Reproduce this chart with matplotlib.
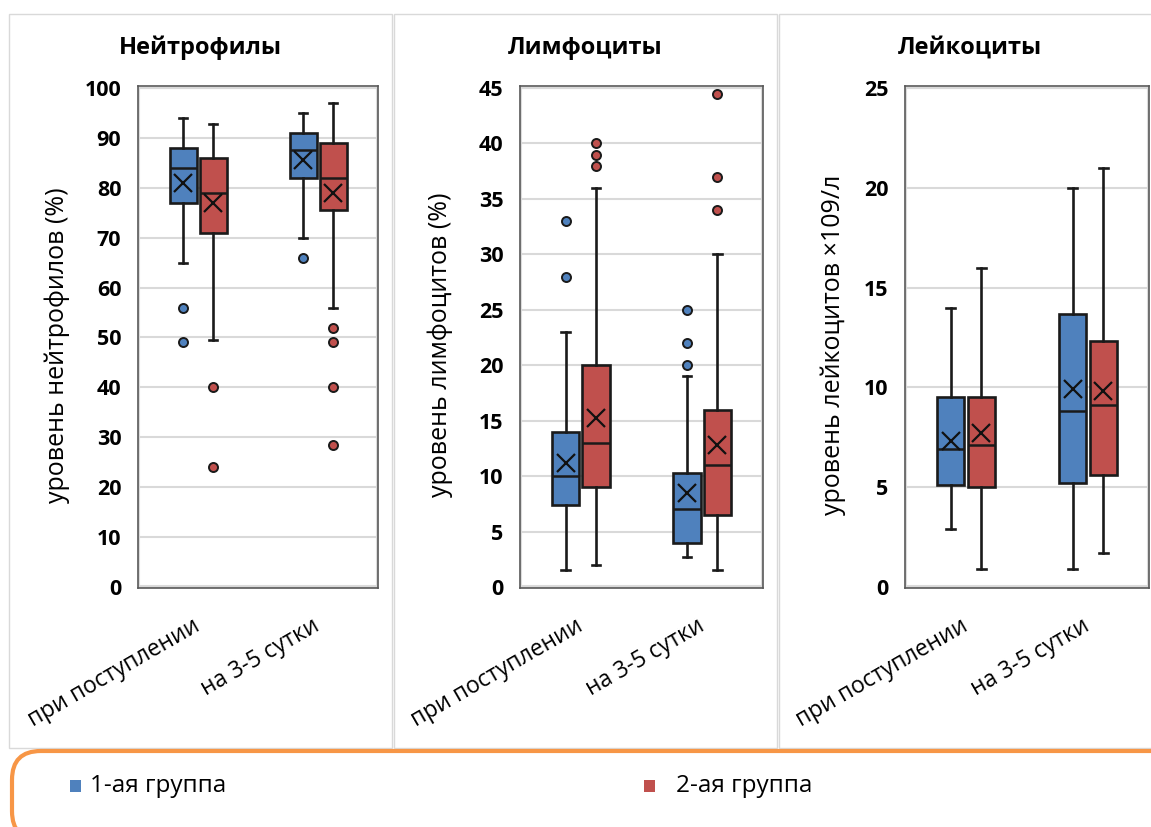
import matplotlib
matplotlib.use("Agg")
import matplotlib.pyplot as plt
from matplotlib.patches import Rectangle, FancyBboxPatch

plt.rcParams['font.family'] = ['Open Sans', 'DejaVu Sans']

W, H = 1151, 827

# categories / groups
days = ['при поступлении', 'на 3-5 сутки']
groups = ['1-ая группа', '2-ая группа']
colors = ['#4F81BD', '#C0504D']

titles = ['Нейтрофилы', 'Лимфоциты', 'Лейкоциты']
ylabels = ['уровень нейтрофилов (%)', 'уровень лимфоцитов (%)', 'уровень лейкоцитов ×109/л']
ylims = [(0, 100), (0, 45), (0, 25)]
ysteps = [10, 5, 5]

# box stats per panel: [group][day] -> (whislo, q1, med, q3, whishi, mean)
neut_g1 = [(65, 77, 84, 88, 94, 81), (70, 82, 87.5, 91, 95, 85.6)]
neut_g2 = [(49.5, 71, 79, 86, 92.7, 77), (56, 75.5, 82, 89, 97, 79)]
neut_out_g1 = [[56, 49], [66]]
neut_out_g2 = [[40, 24], [52, 49, 40, 28.5]]

lymph_g1 = [(1.5, 7.4, 10, 14, 23, 11.2), (2.7, 4, 7, 10.3, 19, 8.5)]
lymph_g2 = [(2, 9, 13, 20, 36, 15.2), (1.5, 6.5, 11, 16, 30, 12.8)]
lymph_out_g1 = [[33, 28], [25, 22, 20]]
lymph_out_g2 = [[40, 39, 38], [44.5, 37, 34]]

leuk_g1 = [(2.9, 5.1, 6.9, 9.5, 14, 7.3), (0.9, 5.2, 8.8, 13.7, 20, 9.9)]
leuk_g2 = [(0.9, 5, 7.1, 9.5, 16, 7.7), (1.7, 5.6, 9.1, 12.3, 21, 9.8)]
leuk_out_g1 = [[], []]
leuk_out_g2 = [[], []]

panels = [
    ([neut_g1, neut_g2], [neut_out_g1, neut_out_g2]),
    ([lymph_g1, lymph_g2], [lymph_out_g1, lymph_out_g2]),
    ([leuk_g1, leuk_g2], [leuk_out_g1, leuk_out_g2]),
]


def fx(px):
    return px / W


def fy(py):
    return 1 - py / H


# pixel layout of panels and plot areas
frames = [(9, 392), (394, 777), (779, 1165)]
plot_x = [(138, 378), (520, 763), (905, 1149)]
title_x = [200, 585, 970]
ylabel_x = [57, 440, 833]
plot_top, plot_bot = 86, 588

fig = plt.figure(figsize=(W / 100, H / 100), dpi=100)
fig.patch.set_facecolor('white')

for x0, x1 in frames:
    fig.patches.append(Rectangle((fx(x0), fy(748)), fx(x1 - x0), (748 - 14) / H,
                                 transform=fig.transFigure, fill=False,
                                 edgecolor='#d9d9d9', lw=1))

offsets = [-0.125, 0.125]
dark = '#1a1a1a'
for i, (stats, outs) in enumerate(panels):
    l, r = plot_x[i]
    ax = fig.add_axes([fx(l), fy(plot_bot), fx(r - l), (plot_bot - plot_top) / H])
    for g in range(2):
        bstats = []
        for d in range(2):
            lo, q1, med, q3, hi, mean = stats[g][d]
            bstats.append(dict(whislo=lo, q1=q1, med=med, q3=q3, whishi=hi,
                               mean=mean, fliers=outs[g][d]))
        pos = [d + 1 + offsets[g] for d in range(2)]
        ax.bxp(bstats, positions=pos, widths=0.225, capwidths=0.07,
               patch_artist=True, showmeans=True,
               boxprops=dict(facecolor=colors[g], edgecolor=dark, lw=1.9),
               medianprops=dict(color=dark, lw=1.8),
               whiskerprops=dict(color=dark, lw=1.9),
               capprops=dict(color=dark, lw=1.9),
               meanprops=dict(marker='x', markersize=13, markeredgecolor='#111111',
                              markeredgewidth=1.6),
               flierprops=dict(marker='o', markersize=6.5, markerfacecolor=colors[g],
                               markeredgecolor=dark, markeredgewidth=1.4))
    lo, hi = ylims[i]
    ax.set_ylim(lo - 0.002 * hi, hi * 1.004)
    ax.set_xlim(0.5, 2.5)
    ax.set_yticks(range(lo, hi + 1, ysteps[i]))
    ax.yaxis.grid(True, color='#d9d9d9', lw=1.5)
    ax.set_axisbelow(True)
    for s in ax.spines.values():
        s.set_color('#595959')
        s.set_linewidth(1.2)
    ax.add_patch(Rectangle((0.006, 0.004), 0.988, 0.992, transform=ax.transAxes,
                           fill=False, edgecolor='#dcdcdc', lw=1.5, zorder=0))
    ax.tick_params(axis='both', length=0)
    ax.tick_params(axis='y', pad=12)
    for t in ax.get_yticklabels():
        t.set_fontsize(15.5)
        t.set_fontweight('bold')
    ax.set_xticks([1, 2])
    ax.set_xticklabels(days, rotation=30, ha='right', va='center',
                       rotation_mode='anchor', fontsize=16.5)
    ax.tick_params(axis='x', pad=26)

    fig.text(fx(title_x[i]), fy(48), titles[i], ha='center', va='center',
             fontsize=17, fontweight='bold')
    fig.text(fx(ylabel_x[i]), fy(345), ylabels[i],
             rotation=90, ha='center', va='center', fontsize=18)

# legend box along the bottom
fig.patches.append(FancyBboxPatch((fx(12), fy(840)), fx(1200), (840 - 751) / H,
                                  boxstyle='round,pad=0,rounding_size=0.025',
                                  transform=fig.transFigure, fill=False,
                                  edgecolor='#F79646', lw=3, mutation_aspect=W / H))
leg_x = [(70, 90), (644, 676)]
for g in range(2):
    sx, tx = leg_x[g]
    fig.patches.append(Rectangle((fx(sx), fy(792)), fx(11), 12 / H,
                                 transform=fig.transFigure, facecolor=colors[g],
                                 edgecolor='none'))
    fig.text(fx(tx), fy(786), groups[g], ha='left', va='center', fontsize=17.5)

fig.savefig('out.png', dpi=100)
